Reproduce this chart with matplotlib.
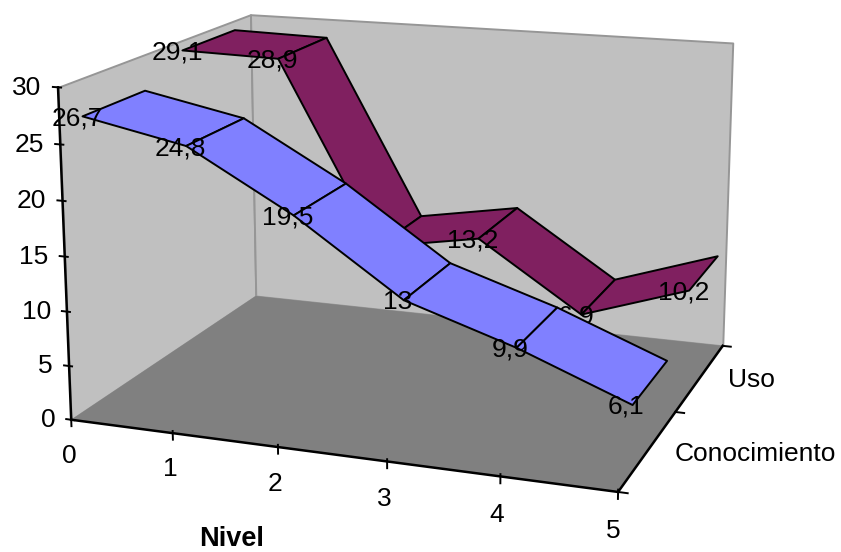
import matplotlib
matplotlib.use("Agg")
import matplotlib.pyplot as plt
import numpy as np
from mpl_toolkits.mplot3d import proj3d
from mpl_toolkits.mplot3d.art3d import Poly3DCollection

plt.rcParams['font.family'] = ['Liberation Sans', 'DejaVu Sans']

niveles = [0, 1, 2, 3, 4, 5]
conocimiento = [26.7, 24.8, 19.5, 13, 9.9, 6.1]
uso = [29.1, 28.9, 11.5, 13.2, 6.9, 10.2]
value_ticks = [0, 5, 10, 15, 20, 25, 30]
series_names = ['Conocimiento', 'Uso']

W, H = 841, 552

# camera: where known box points land on the canvas (level, depth, value) -> (px, py)
box_points = [
    (0, 0, 0, 72, 420), (5, 0, 0, 618, 491), (5, 2, 0, 722, 347), (0, 2, 0, 256, 295),
    (0, 0, 30, 59, 87), (0, 2, 30, 250, 15), (5, 2, 30, 733, 43),
    (1, 0, 0, 173, 434), (2, 0, 0, 278, 448), (3, 0, 0, 387, 462), (4, 0, 0, 499, 476),
    (0, 0, 10, 66, 311), (0, 0, 20, 62, 201), (5, 1, 0, 677, 411),
]


def fit_camera(points):
    A, b = [], []
    for x, y, z, u, v in points:
        A.append([x, y, z, 1, 0, 0, 0, 0, -u * x, -u * y, -u * z])
        A.append([0, 0, 0, 0, x, y, z, 1, -v * x, -v * y, -v * z])
        b += [u, v]
    p = np.linalg.lstsq(np.array(A, float), np.array(b, float), rcond=None)[0]
    return np.append(p, 1).reshape(3, 4)


fig = plt.figure(figsize=(W / 100, H / 100), dpi=100)
ax = fig.add_axes([0, 0, 1, 1], projection='3d', computed_zorder=False)
ax.set_axis_off()
ax.apply_aspect = lambda position=None: None

# pixel camera rescaled to the 2d view limits of the 3d axes
P = fit_camera(box_points)
x0, x1 = ax.viewLim.intervalx
y0, y1 = ax.viewLim.intervaly
to_view = np.array([[(x1 - x0) / W, 0, x0], [0, -(y1 - y0) / H, y1], [0, 0, 1]])
P = to_view @ P
# negative depth row, Line3D drops points with depth above zero
M = np.array([P[0], P[1], [0, 0, 0, -1], P[2]])
ax.get_proj = lambda: M


def add_poly(verts, face, edge='none', lw=0, z=1):
    poly = Poly3DCollection([verts], facecolors=face, edgecolors=edge, linewidths=lw, zorder=z)
    ax.add_collection3d(poly, autolim=False)


def label(x, d, v, s, dx=0, dy=0, z=8, **kw):
    # text goes at the projected spot of a 3d point, dx/dy in canvas pixels
    u, w, _ = proj3d.proj_transform(x, d, v, M)
    u += dx * (x1 - x0) / W
    w -= dy * (y1 - y0) / H
    ax.text2D(u, w, s, transform=ax.transData, fontsize=19, color='black', va='center', zorder=z, **kw)


# walls and floor
wall = '#c0c0c0'
wall_edge = '#969696'
add_poly([(0, 0, 0), (0, 2, 0), (0, 2, 30), (0, 0, 30)], wall, wall_edge, 1.4, 1)
add_poly([(0, 2, 0), (5, 2, 0), (5, 2, 30), (0, 2, 30)], wall, wall_edge, 1.4, 1)
add_poly([(0, 0, 0), (5, 0, 0), (5, 2, 0), (0, 2, 0)], '#808080', 'none', 0, 2)


def ribbon(values, d0, d1, color, z):
    for i in range(len(niveles) - 1):
        a, b = niveles[i], niveles[i + 1]
        add_poly([(a, d0, values[i]), (b, d0, values[i + 1]),
                  (b, d1, values[i + 1]), (a, d1, values[i])], color, 'black', 1.4, z)


def value_labels(values, d0, z):
    for n, v in zip(niveles, values):
        label(n - 0.05, d0, v, f'{v:g}'.replace('.', ','), dy=3, z=z, ha='center')


ribbon(uso, 1.2, 1.8, '#802060', 4)
value_labels(uso, 1.2, 5)
ribbon(conocimiento, 0.2, 0.8, '#8080ff', 6)
value_labels(conocimiento, 0.2, 7)

# axes lines
ax.plot([0, 0], [0, 0], [0, 30], color='black', lw=1.8, zorder=3)
ax.plot([0, 5], [0, 0], [0, 0], color='black', lw=1.8, zorder=3)
ax.plot([5, 5], [0, 2], [0, 0], color='black', lw=1.8, zorder=3)

for v in value_ticks:
    ax.plot([-0.05, 0.03], [0, 0], [v, v], color='black', lw=1.4, zorder=3)
    label(-0.16, 0, v, str(v), dy=2, ha='right')
for n in niveles:
    ax.plot([n, n], [0, 0], [-0.6, 0.2], color='black', lw=1.4, zorder=3)
    label(n - 0.03, 0, -3.4, str(n), ha='center')
for d in [0, 1, 2]:
    ax.plot([5, 5.08], [d, d], [0, 0], color='black', lw=1.4, zorder=3)
label(5.25, 0.5, 0, series_names[0], dx=-2, ha='left')
label(5.25, 1.5, 0, series_names[1], dx=2, ha='left')

fig.text(232 / W, 1 - 539 / H, 'Nivel', ha='center', va='center', fontsize=19.5, fontweight='bold')

fig.savefig('out.png', dpi=100)
